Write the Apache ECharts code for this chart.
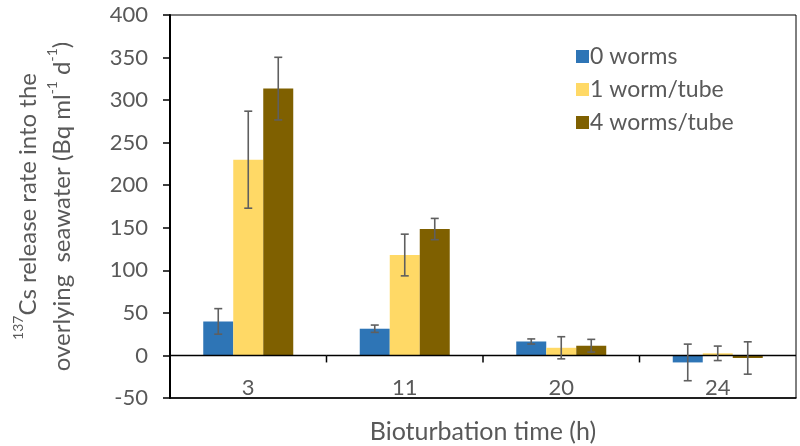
<!DOCTYPE html>
<html>
<head>
<meta charset="utf-8">
<script src="https://cdn.jsdelivr.net/npm/echarts@6/dist/echarts.min.js"></script>
<style>html,body{margin:0;padding:0;background:#fff}#c{width:800px;height:446px}</style>
</head>
<body>
<div id="c"></div>
<script>
const categories = ['3', '11', '20', '24'];
const seriesNames = ['0 worms', '1 worm/tube', '4 worms/tube'];
const worms0 = [40, 31.4, 16.4, -8.2];
const worms0Err = [15, 4.3, 3, 21.5];
const worm1 = [230, 118, 9, 2.5];
const worm1Err = [57, 24.5, 13, 8.5];
const worms4 = [313.5, 148.5, 11.4, -3];
const worms4Err = [36.8, 12.5, 7.5, 19];
const yTicks = { min: -50, max: 400, interval: 50 };

const colors = ['#2E75B6', '#FFD966', '#7F6000'];
const FONT = 'Lato';
const TXT = '#595959';
const BAR_W = 30;

const values = [worms0, worm1, worms4];
const errs = [worms0Err, worm1Err, worms4Err];

function errData(v, e) {
  return v.map((val, i) => [i, val - e[i], val + e[i]]);
}
function errRender(idx) {
  return function (params, api) {
    const x = api.value(0);
    const lo = api.coord([x, api.value(1)]);
    const hi = api.coord([x, api.value(2)]);
    const off = (idx - 1) * BAR_W;
    const cx = lo[0] + off;
    const cap = 4;
    const style = { stroke: '#5f5f5f', lineWidth: 1.6 };
    return {
      type: 'group',
      children: [
        { type: 'line', shape: { x1: cx, y1: lo[1], x2: cx, y2: hi[1] }, style: style },
        { type: 'line', shape: { x1: cx - cap, y1: lo[1], x2: cx + cap, y2: lo[1] }, style: style },
        { type: 'line', shape: { x1: cx - cap, y1: hi[1], x2: cx + cap, y2: hi[1] }, style: style }
      ]
    };
  };
}
// horizontal axis line at value 0 with category-boundary ticks
function zeroAxisRender(params, api) {
  const i = api.value(0);
  const c = api.coord([i, 0]);
  const bw = api.size([1, 0])[0];
  const x0 = c[0] - bw / 2, x1 = c[0] + bw / 2, y = c[1];
  const style = { stroke: '#000', lineWidth: 1.5 };
  const children = [{ type: 'line', shape: { x1: x0, y1: y, x2: x1, y2: y }, style: style }];
  if (i < categories.length - 1) {
    children.push({ type: 'line', shape: { x1: x1, y1: y, x2: x1, y2: y + 7 }, style: style });
  }
  return { type: 'group', children: children };
}

const series = [];
values.forEach((v, i) => {
  series.push({
    name: seriesNames[i], type: 'bar', data: v, barWidth: BAR_W, barGap: '0%',
    itemStyle: { color: colors[i] }, z: 2
  });
});
series.push({
  type: 'custom', data: categories.map((c, i) => [i]), renderItem: zeroAxisRender, z: 4, silent: true
});
values.forEach((v, i) => {
  series.push({
    type: 'custom', data: errData(v, errs[i]), renderItem: errRender(i), z: 5, silent: true
  });
});

const chart = echarts.init(document.getElementById('c'));
chart.setOption({
  animation: false,
  textStyle: { fontFamily: FONT },
  grid: { left: 170, right: 4, top: 15, bottom: 48, outerBoundsMode: 'none', containLabel: false, show: true, borderColor: '#000', borderWidth: 1, backgroundColor: 'transparent' },
  legend: {
    orient: 'vertical', left: 571, top: 40, itemWidth: 13, itemHeight: 13, itemGap: 10,
    icon: 'rect', data: seriesNames,
    textStyle: { fontFamily: FONT, fontSize: 23, lineHeight: 22, color: TXT, padding: [0, 0, 0, -4] }
  },
  xAxis: {
    type: 'category', data: categories,
    axisLine: { onZero: false, lineStyle: { color: '#000', width: 1.5 } },
    axisTick: { show: false },
    axisLabel: { inside: true, margin: -1, fontSize: 22, color: TXT, fontFamily: FONT },
    name: 'Bioturbation time (h)', nameLocation: 'middle', nameGap: 21,
    nameTextStyle: { fontSize: 25, color: TXT, fontFamily: FONT }
  },
  yAxis: {
    type: 'value', min: yTicks.min, max: yTicks.max, interval: yTicks.interval,
    axisLine: { show: true, onZero: false, lineStyle: { color: '#000', width: 2 } },
    axisTick: { show: true, length: 7, lineStyle: { color: '#000', width: 1.5 } },
    axisLabel: { margin: 22, fontSize: 22, color: TXT, fontFamily: FONT },
    splitLine: { show: false },
    name: '{sup|137}Cs release rate into the\noverlying  seawater (Bq ml{sup|-1} d{sup|-1})',
    nameLocation: 'middle', nameRotate: 90, nameGap: 91,
    nameTextStyle: {
      fontSize: 24, color: TXT, fontFamily: FONT, lineHeight: 34, align: 'center',
      rich: {
        sup: { fontSize: 14, color: TXT, fontFamily: FONT, verticalAlign: 'top', lineHeight: 34, padding: [0, 0, 10, 0] }
      }
    }
  },
  series: series
});
</script>
</body>
</html>
